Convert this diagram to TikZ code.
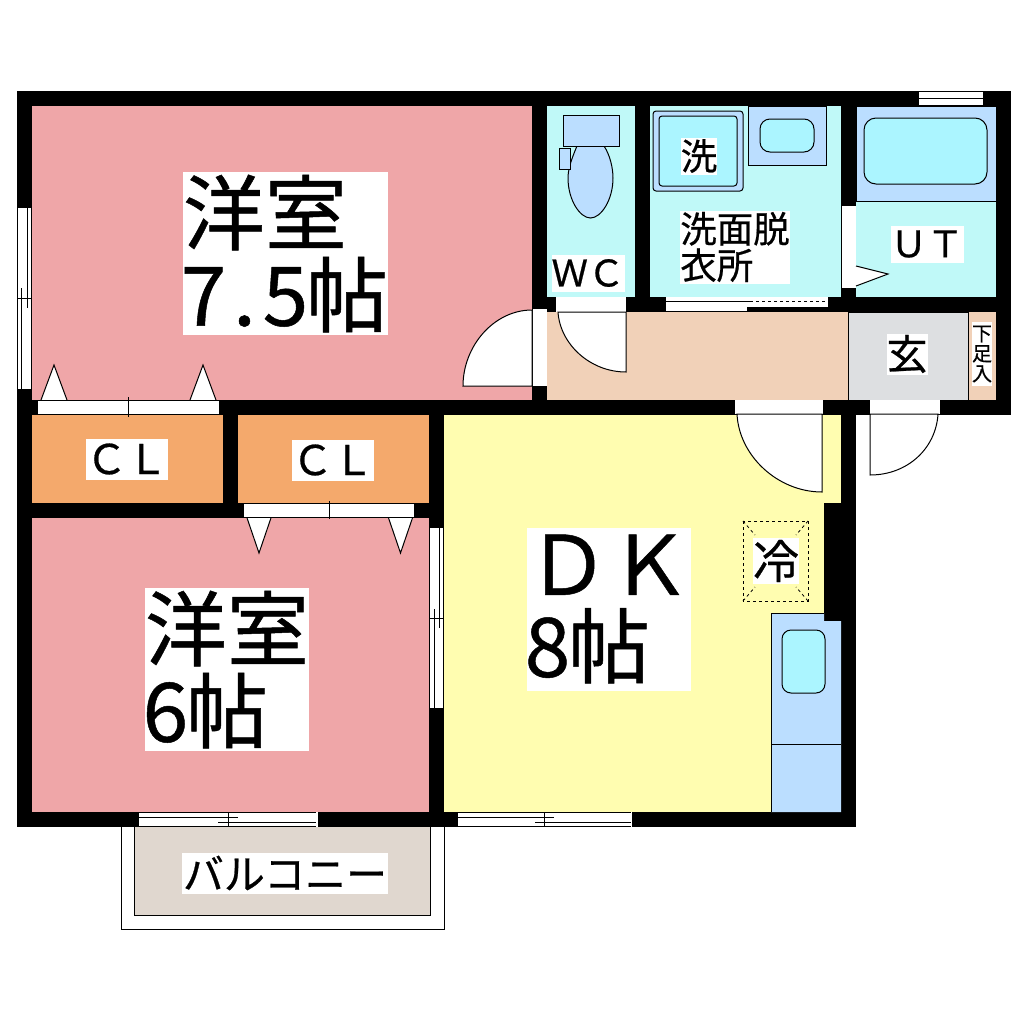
\documentclass[tikz,border=0pt]{standalone}
\usepackage{fontspec}
\setmainfont[FakeBold=0.6]{Noto Sans CJK JP}
\usetikzlibrary{positioning}
\definecolor{rosa}{HTML}{EFA6A8}
\definecolor{schrank}{HTML}{F4A96C}
\definecolor{gelb}{HTML}{FFFDB0}
\definecolor{nass}{HTML}{C0F9F8}
\definecolor{blau}{HTML}{BBDEFF}
\definecolor{wasser}{HTML}{ABF5FF}
\definecolor{flur}{HTML}{F1D1B8}
\definecolor{grau}{HTML}{DDDFE1}
\definecolor{balkon}{HTML}{E0D7CF}
\newcommand{\halb}[1]{\makebox[.5em]{#1}}
\tikzset{
	label/.style n args = {3}{fill=white,inner sep=0pt,minimum width=#1,minimum height=#2,align=left,font=\fontsize{#3}{#3}\selectfont},
	wand/.style = {fill=black},
	fenster/.style = {fill=white},
	duenn/.style = {draw=black,line width=1pt},
	faltung/.pic = {
			\draw[duenn,fill=white,pic actions] (-13,0) -- (0,-35) -- (13,0);
			}
		}

\begin{document}
\begin{tikzpicture}
		[x=1pt,y=-1pt,
		line width=1pt,
		every node/.style={text=black}
		]
		\useasboundingbox (0,0) rectangle (1020,1020);
		% balcony
		\draw[duenn,fill=white] (121,820) rectangle (444,929);
		\draw[duenn,fill=balkon] (134,820) rectangle (430,915);
		% walls
		\fill[wand] (17,91) rectangle (1011,415);
		\fill[wand] (17,415) rectangle (856,827);
		% rooms
		\fill[rosa] (32,106) rectangle (532,400);
		\fill[rosa] (32,518) rectangle (429,812);
		\fill[schrank] (32,415) rectangle (223,503);
		\fill[schrank] (238,415) rectangle (429,503);
		\fill[gelb] (444,415) rectangle (841,812);
		\fill[wand] (824,503) rectangle (841,621);
		\fill[nass] (547,106) rectangle (635,297);
		\fill[nass] (650,106) rectangle (841,297);
		\fill[nass] (856,106) rectangle (996,297);
		\fill[flur] (547,312) rectangle (996,400);
		\draw[duenn,fill=grau] (848,312) rectangle (968,400);
		% kitchen
		\fill[blau] (771,613) -- (824,613) -- (824,621) -- (841,621) -- (841,812) -- (771,812) -- cycle;
		\draw[duenn] (824,613) -- (771,613) -- (771,812);
		\draw[duenn] (771,744) -- (841,744);
		\draw[duenn,fill=wasser,rounded corners=9pt] (782,630) rectangle (825,693);
		% fridge
		\draw[duenn,dashed,line width=.8pt] (743,521) rectangle (808,601);
		\draw[duenn,dashed,line width=.8pt] (743,521) -- (755,535) (808,521) -- (796,535) (743,601) -- (755,587) (808,601) -- (796,587);
		% toilet
		\draw[duenn,fill=blau] (577,146) .. controls (571,160) and (568,170) .. (568,178) .. controls (568,200) and (580,218) .. (590.5,218) .. controls (601,218) and (613,200) .. (613,178) .. controls (613,168) and (610,155) .. (604,146) -- cycle;
		\draw[duenn,fill=blau] (563,115) rectangle (619,146);
		\draw[duenn,fill=blau] (559,148) rectangle (570,169);
		% washing machine
		\draw[duenn,fill=blau,rounded corners=3pt] (653,111) rectangle (743,191);
		\draw[duenn,fill=wasser,rounded corners=3pt] (659,116) rectangle (737,186);
		% basin
		\draw[duenn,fill=blau] (748,106) rectangle (826,165);
		\draw[duenn,fill=wasser,rounded corners=10pt] (760,119) rectangle (814,152);
		% bath
		\draw[duenn,fill=blau] (856,106) rectangle (996,201);
		\draw[duenn,fill=wasser,rounded corners=12pt] (864,118) rectangle (987,184);
		% door to room
		\fill[fenster] (533,309) rectangle (547,386);
		\draw[duenn,fill=white] (532,310) .. controls (494,310) and (463,346) .. (463,386) -- (532,386) -- cycle;
		% WC door
		\fill[fenster] (556,297) rectangle (626,312);
		\draw[duenn,fill=white] (558,312) .. controls (560,344) and (590,372) .. (626,372) -- (626,312) -- cycle;
		% washroom door
		\fill[fenster] (666,297) rectangle (828,307);
		\fill[fenster] (666,307) rectangle (747,312);
		\draw[duenn] (666,301) -- (750,301) (666,311.5) -- (747,311.5);
		\draw[duenn,dashed,line width=.8pt] (750,301) -- (828,301);
		% UT door
		\fill[fenster] (842,206) rectangle (856,288);
		\draw[duenn,fill=white] (856,266) -- (888,274) -- (856,286);
		% window top
		\fill[fenster] (919,92) rectangle (983,105);
		\draw[duenn] (919,98) -- (983,98);
		% DK door
		\fill[fenster] (735,400) rectangle (823,414);
		\draw[duenn,fill=white] (737,414) .. controls (739,456) and (778,492) .. (822,492) -- (822,414) -- cycle;
		% entrance door
		\fill[fenster] (870,400) rectangle (940,414);
		\draw[duenn,fill=white] (938,414) .. controls (936,448) and (908,475) .. (870,475) -- (870,414) -- cycle;
		% closet doors
		\fill[fenster] (38,400) rectangle (219,414);
		\pic at (54,400) {faltung};
		\pic at (203,400) {faltung};
		\draw[duenn] (38,400) -- (219,400) (38,414) -- (219,414) (128,397) -- (128,417);
		\fill[fenster] (244,503) rectangle (414,517);
		\pic[yscale=-1,xscale=.92] at (259,518) {faltung};
		\pic[yscale=-1,xscale=.92] at (400.5,518) {faltung};
		\draw[duenn] (244,503) -- (414,503) (244,517.5) -- (414,517.5) (329,501) -- (329,519);
		% windows
		\fill[fenster] (17,208) rectangle (32,389);
		\draw[duenn] (17.5,208) -- (17.5,389) (21.5,288) -- (21.5,389) (27,208) -- (27,308) (31.5,208) -- (31.5,389) (17,298.5) -- (32,298.5);
		\fill[fenster] (429,528) rectangle (444,708);
		\draw[duenn] (429.5,528) -- (429.5,708) (434.5,609) -- (434.5,708) (439.5,528) -- (439.5,628) (443.5,528) -- (443.5,708) (429,618) -- (444,618);
		\fill[fenster] (139,812) rectangle (318,827);
		\draw[duenn] (139,812.5) -- (316,812.5) (139,817) -- (238,817) (218,822) -- (316,822) (139,826.5) -- (316,826.5) (228,812) -- (228,827);
		\fill[fenster] (458,812) rectangle (632,827);
		\draw[duenn] (458,812.5) -- (631,812.5) (458,817) -- (554,817) (535,822) -- (631,822) (458,826.5) -- (631,826.5) (544.5,812) -- (544.5,827);
		% labels
		\node[label={205pt}{163pt}{82pt}] (zimmerA) at (285.5,253.5) {洋室\\\halb{7}\halb{.}\halb{5}帖};
		\node[label={164pt}{163pt}{82pt}] (zimmerB) at (227,669.5) {洋室\\\halb{6}帖};
		\node[label={164pt}{163pt}{82pt}] (dk) at (609,609) {ＤＫ\\\halb{8}帖};
		\node[label={82pt}{41pt}{41pt}] (clA) at (127,459) {ＣＬ};
		\node[label={82pt}{41pt}{41pt}] (clB) at (333,460) {ＣＬ};
		\node[label={73pt}{37pt}{36.5pt}] (wc) at (588,273) {ＷＣ};
		\node[label={36pt}{37pt}{36.5pt}] (wasch) at (699,156) {洗};
		\node[label={109pt}{73pt}{36.5pt}] (bad) at (735,247) {洗面脱\\衣所};
		\node[label={73pt}{37pt}{36.5pt}] (ut) at (927,244) {ＵＴ};
		\node[label={41pt}{41pt}{41pt}] (genkan) at (907,354) {玄};
		\node[label={19pt}{64pt}{20pt}] (schuh) at (982,354) {下\\足\\入};
		\node[label={46pt}{46pt}{46pt}] (kalt) at (776,561) {冷};
		\node[label={206pt}{41pt}{41pt}] (balkonL) at (285,873) {バルコニー};
	\end{tikzpicture}
\end{document}
